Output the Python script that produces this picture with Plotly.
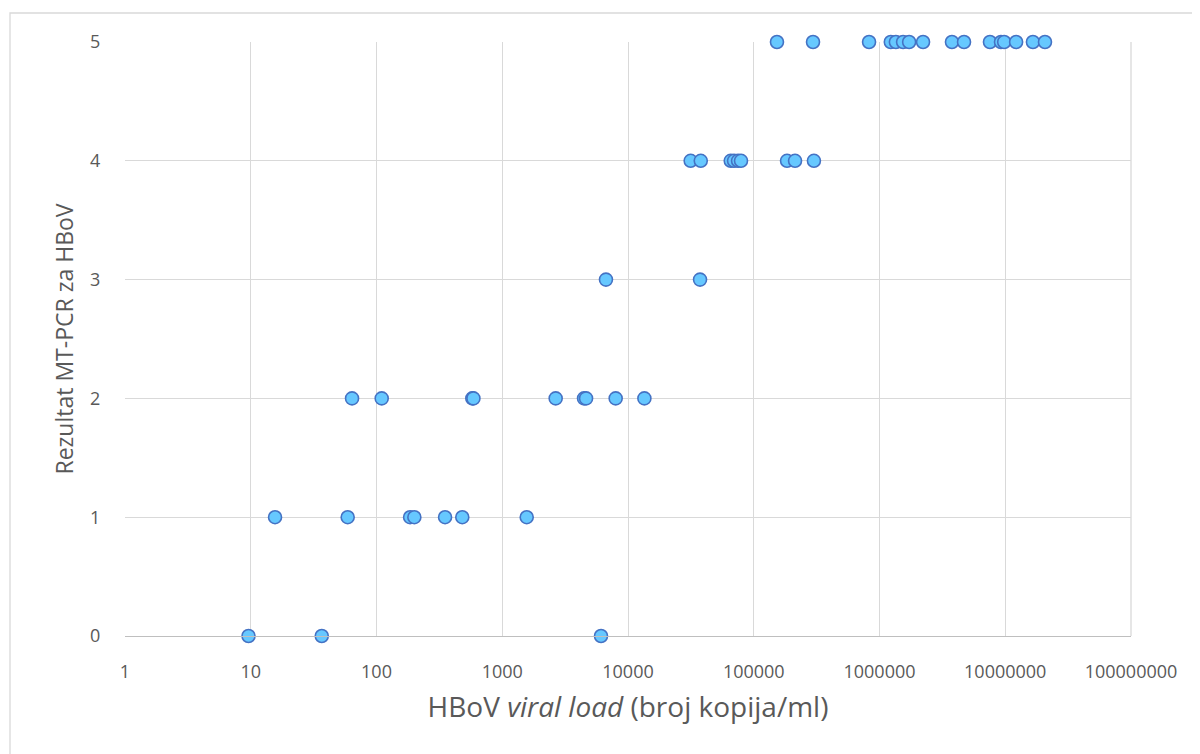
import plotly.graph_objects as go

# Data (HBoV viral load vs MT-PCR result)
load_0 = [9.6, 36.7, 6100]
load_1 = [15.6, 59, 185, 200, 351, 481, 1565]
load_2 = [63.9, 110, 578, 590, 2660, 4470, 4640, 7980, 13500]
load_3 = [6680, 37400]
load_4 = [31500, 37900, 65600, 69700, 75000, 79200, 184000, 213000, 301000]
load_5 = [153000, 296000, 826000, 1230000, 1350000, 1540000, 1720000, 2220000,
          3770000, 4700000, 7560000, 9250000, 9800000, 12200000, 16600000, 20700000]

groups = [load_0, load_1, load_2, load_3, load_4, load_5]
x_vals = []
y_vals = []
for score, loads in enumerate(groups):
    x_vals += loads
    y_vals += [score] * len(loads)

x_tick_vals = [1, 10, 100, 1000, 10000, 100000, 1000000, 10000000, 100000000]
x_tick_text = ["1", "10", "100", "1000", "10000", "100000", "1000000", "10000000", "100000000"]
y_tick_vals = [0, 1, 2, 3, 4, 5]

font_family = "Open Sans, Lato, sans-serif"
text_color = "#595959"
grid_color = "#d9d9d9"

# page has an 8px body margin, so the figure is offset by 8px
ML, MT = 117, 34
PW, PH = 1006, 594

fig = go.Figure()
fig.add_trace(go.Scatter(
    x=x_vals, y=y_vals, mode="markers", cliponaxis=False,
    marker=dict(size=13, color="#66c8ff", line=dict(color="#4472c4", width=1.6)),
    showlegend=False,
))

fig.update_layout(
    width=1200, height=754,
    margin=dict(l=ML, r=1200 - ML - PW, t=MT, b=754 - MT - PH),
    paper_bgcolor="white", plot_bgcolor="white",
    font=dict(family=font_family, color=text_color),
    xaxis=dict(
        type="log", range=[0, 8], automargin=False,
        tickvals=x_tick_vals, ticktext=x_tick_text,
        tickfont=dict(size=18, color=text_color),
        showgrid=True, gridcolor=grid_color, gridwidth=1.3,
        showline=True, linecolor="#bfbfbf", linewidth=1.3, mirror=False,
        zeroline=False, ticks="outside", ticklen=19, tickcolor="rgba(0,0,0,0)",
        title=dict(text="HBoV <i>viral load</i> (broj kopija/ml)",
                   font=dict(size=28, color=text_color), standoff=15),
    ),
    yaxis=dict(
        range=[0, 5], tickvals=y_tick_vals, automargin=False,
        tickfont=dict(size=18, color=text_color),
        showgrid=True, gridcolor=grid_color, gridwidth=1.3,
        zeroline=False, showline=False, ticks="outside", ticklen=20,
        tickcolor="rgba(0,0,0,0)",
        title=dict(text="Rezultat MT-PCR za HBoV",
                   font=dict(size=23, color=text_color), standoff=10),
    ),
    shapes=[
        # chart frame around the whole figure
        dict(type="rect", xref="paper", yref="paper",
             x0=(2 - ML) / PW, x1=(1205 - ML) / PW,
             y0=(MT + PH - 770) / PH, y1=(MT + PH - 5) / PH,
             line=dict(color="#d9d9d9", width=1.3), fillcolor="rgba(0,0,0,0)",
             layer="below"),
        # right edge of plot area
        dict(type="line", xref="paper", yref="paper", x0=1, x1=1, y0=0, y1=1,
             line=dict(color=grid_color, width=1.3), layer="below"),
    ],
)

fig.write_html("out.html")
